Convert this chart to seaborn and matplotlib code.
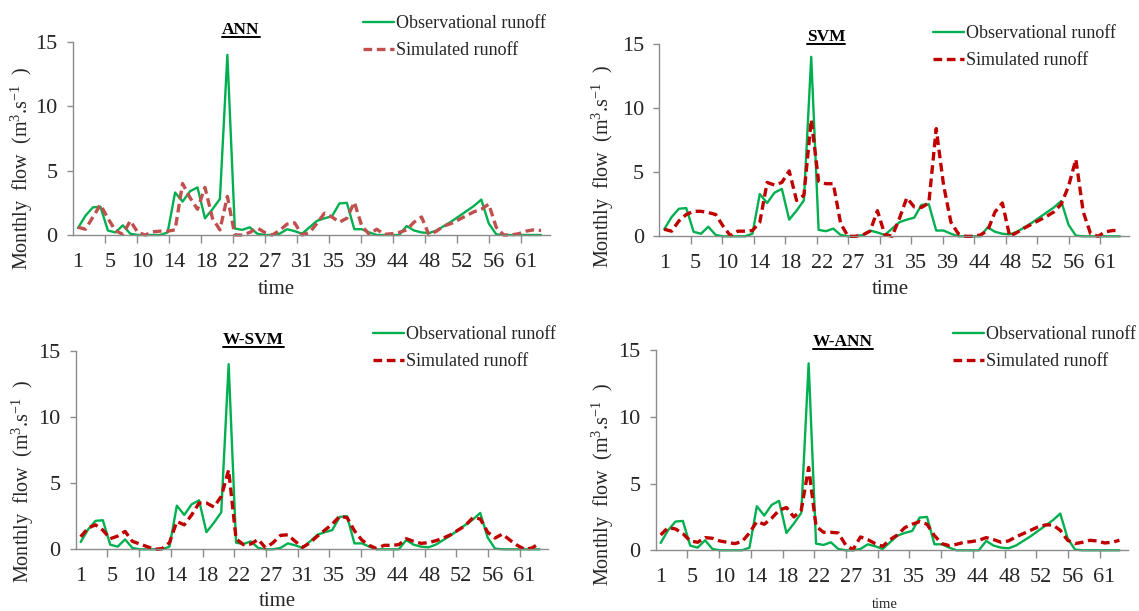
import numpy as np
import pandas as pd
import seaborn as sns
import matplotlib.pyplot as plt
from matplotlib.lines import Line2D

# ---------------- data ----------------
time = np.arange(1, 64)

observed = [0.55, 1.5, 2.15, 2.2, 0.35, 0.2, 0.75, 0.1, 0.0, 0.0,
            0.0, 0.0, 0.2, 3.3, 2.6, 3.4, 3.7, 1.3, 2.0, 2.8,
            14.0, 0.5, 0.4, 0.6, 0.1, 0.0, 0.0, 0.1, 0.45, 0.3,
            0.1, 0.6, 1.1, 1.3, 1.45, 2.45, 2.5, 0.45, 0.45, 0.2,
            0.0, 0.0, 0.0, 0.0, 0.7, 0.35, 0.2, 0.15, 0.35, 0.7,
            1.05, 1.45, 1.85, 2.25, 2.75, 0.9, 0.05, 0.0, 0.0, 0.0,
            0.0, 0.0, 0.0]

ann_sim = [0.6, 0.45, 1.4, 2.35, 1.3, 0.35, 0.05, 1.1, 0.2, 0.0,
           0.25, 0.3, 0.3, 0.4, 4.0, 2.9, 2.0, 3.7, 1.3, 0.4,
           3.0, 0.0, 0.0, 0.2, 0.55, 0.2, 0.0, 0.35, 0.85, 0.95,
           0.0, 0.2, 0.9, 1.7, 1.4, 1.0, 1.3, 2.55, 0.7, 0.05,
           0.45, 0.05, 0.1, 0.2, 0.4, 1.0, 1.4, 0.0, 0.3, 0.7,
           0.9, 1.2, 1.5, 1.8, 2.0, 2.4, 0.6, 0.0, 0.0, 0.1,
           0.3, 0.4, 0.35]

svm_sim = [0.55, 0.4, 1.2, 1.7, 1.95, 1.95, 1.85, 1.7, 0.8, 0.05,
           0.4, 0.4, 0.45, 1.1, 4.2, 4.0, 4.2, 5.1, 2.8, 3.2,
           9.1, 4.3, 4.1, 4.1, 1.0, 0.0, 0.0, 0.1, 0.4, 2.0,
           0.15, 0.0, 1.4, 3.0, 2.3, 2.25, 2.6, 8.4, 4.0, 1.1,
           0.2, 0.0, 0.0, 0.1, 0.45, 1.9, 2.6, 0.0, 0.3, 0.65,
           0.95, 1.25, 1.55, 1.9, 2.5, 3.9, 6.0, 1.9, 0.2, 0.0,
           0.35, 0.45, 0.45]

wsvm_sim = [0.95, 1.6, 1.85, 1.45, 0.8, 1.0, 1.35, 0.6, 0.4, 0.2,
            0.0, 0.05, 0.5, 2.1, 1.85, 2.6, 3.5, 3.5, 3.2, 4.0,
            6.0, 0.8, 0.35, 0.4, 0.75, 0.1, 0.5, 1.05, 1.1, 0.6,
            0.15, 0.5, 1.0, 1.45, 1.9, 2.5, 2.4, 1.4, 0.7, 0.3,
            0.05, 0.3, 0.3, 0.35, 0.8, 0.6, 0.45, 0.5, 0.65, 0.85,
            1.1, 1.45, 1.8, 2.4, 2.3, 1.3, 0.85, 1.15, 0.7, 0.3,
            0.0, 0.1, 0.45]

wann_sim = [1.15, 1.7, 1.6, 1.25, 0.7, 0.6, 0.95, 0.9, 0.7, 0.6,
            0.5, 0.65, 1.3, 2.15, 1.95, 2.4, 3.0, 3.2, 2.5, 3.0,
            6.2, 1.8, 1.35, 1.35, 1.3, 0.4, 0.05, 1.0, 0.8, 0.5,
            0.3, 0.8, 1.15, 1.7, 1.95, 2.15, 1.95, 1.1, 0.5, 0.35,
            0.45, 0.6, 0.65, 0.75, 0.95, 0.8, 0.6, 0.7, 1.0, 1.25,
            1.5, 1.75, 1.9, 1.9, 1.5, 0.75, 0.5, 0.6, 0.75, 0.7,
            0.55, 0.6, 0.75]

tick_labels = ['1', '5', '10', '14', '18', '22', '27', '31', '35', '39',
               '44', '48', '52', '56', '61']
series_names = ['Observational runoff', 'Simulated runoff']
panel_titles = ['ANN', 'SVM', 'W-SVM', 'W-ANN']

# ---------------- style ----------------
sns.set_theme(style='ticks')
plt.rcParams['font.family'] = ['Liberation Serif', 'DejaVu Serif']
plt.rcParams['mathtext.fontset'] = 'custom'
plt.rcParams['mathtext.rm'] = 'Liberation Serif'
plt.rcParams['mathtext.it'] = 'Liberation Serif:italic'
plt.rcParams['mathtext.bf'] = 'Liberation Serif:bold'

W, H = 1139, 611
fig = plt.figure(figsize=(W / 100, H / 100), dpi=100)
fig.patch.set_facecolor('white')


def rect(l, r, b, t):
    return [l / W, 1 - b / H, (r - l) / W, (b - t) / H]


def fpt(x, y):
    return (x / W, 1 - y / H)


GREEN = '#00B050'
AXC = '#8C8C8C'

panels = [
    dict(sim=ann_sim, color='#C0504D', rect=rect(73, 550, 235, 42),
         title=(241, 30), leg=(363, 15), ylab=(22, 169), xlab=(276, 289), xs=15),
    dict(sim=svm_sim, color='#C00000', rect=rect(659.3, 1128.8, 236.3, 44),
         title=(826, 37), leg=(933, 25), ylab=(603, 167), xlab=(890, 289), xs=15),
    dict(sim=wsvm_sim, color='#C00000', rect=rect(75.7, 548.3, 549.3, 351),
         title=(253, 340), leg=(373, 326), ylab=(23, 482), xlab=(277, 601), xs=15),
    dict(sim=wann_sim, color='#C00000', rect=rect(655.7, 1128.3, 550.3, 350),
         title=(843, 342), leg=(953, 326), ylab=(603, 485), xlab=(885, 605), xs=10.5),
]

step = 60 / 14
label_pos = 1 + step * np.arange(len(tick_labels))
x_left = 0.33
minor_pos = x_left + step * np.arange(1, 15)

titles = []
for name, p in zip(panel_titles, panels):
    ax = fig.add_axes(p['rect'])
    df = pd.DataFrame({'time': time,
                       series_names[0]: observed,
                       series_names[1]: p['sim']})
    df = df.melt(id_vars='time', var_name='series', value_name='flow')
    sns.lineplot(data=df, x='time', y='flow', hue='series', style='series',
                 size='series', hue_order=series_names, style_order=series_names,
                 size_order=series_names,
                 palette={series_names[0]: GREEN, series_names[1]: p['color']},
                 dashes={series_names[0]: '', series_names[1]: (2.6, 1.4)},
                 sizes={series_names[0]: 1.7, series_names[1]: 2.4},
                 legend=False, ax=ax, clip_on=False)

    ax.set_xlim(x_left, 64.2)
    ax.set_ylim(0, 15)
    ax.set_yticks([0, 5, 10, 15])
    ax.set_xticks(label_pos)
    ax.set_xticklabels(tick_labels)
    ax.set_xticks(minor_pos, minor=True)
    ax.tick_params(axis='x', which='major', length=0, pad=13, labelsize=16)
    ax.tick_params(axis='x', which='minor', length=6, width=1, color=AXC,
                   direction='out', bottom=True)
    ax.tick_params(axis='y', length=4, width=1, color=AXC, pad=7,
                   labelsize=16, direction='out', left=True)
    sns.despine(ax=ax)
    for s in ('left', 'bottom'):
        ax.spines[s].set_color(AXC)
        ax.spines[s].set_linewidth(1.0)
    ax.set_facecolor('white')

    ax.set_xlabel('time', fontsize=p['xs'])
    ax.xaxis.set_label_coords(*fpt(*p['xlab']), transform=fig.transFigure)
    ax.xaxis.label.set_va('center')
    ax.set_ylabel(r'Monthly  flow  (m$^{3}$.s$^{-1}$  )', fontsize=14.5)
    ax.yaxis.set_label_coords(*fpt(*p['ylab']), transform=fig.transFigure)
    ax.yaxis.label.set_va('center')

    handles = ax.lines[:2]
    ax.legend(handles=handles, labels=series_names, loc='upper left',
              bbox_to_anchor=fpt(*p['leg']), bbox_transform=fig.transFigure,
              frameon=False, fontsize=13, handlelength=1.7, handletextpad=0.15,
              borderpad=0, borderaxespad=0, labelspacing=0.55)

    t = fig.text(*fpt(*p['title']), name, ha='center', va='center',
                 fontsize=12.5, fontweight='bold', color='black')
    titles.append(t)

# underline the panel titles
fig.canvas.draw()
inv = fig.transFigure.inverted()
for t in titles:
    bb = t.get_window_extent()
    (x0, y0), (x1, _) = inv.transform([(bb.x0, bb.y0 + 1.5), (bb.x1, bb.y0 + 1.5)])
    fig.add_artist(Line2D([x0, x1], [y0, y0], transform=fig.transFigure,
                          color='black', lw=1.4))

fig.savefig('out.png', dpi=100)
